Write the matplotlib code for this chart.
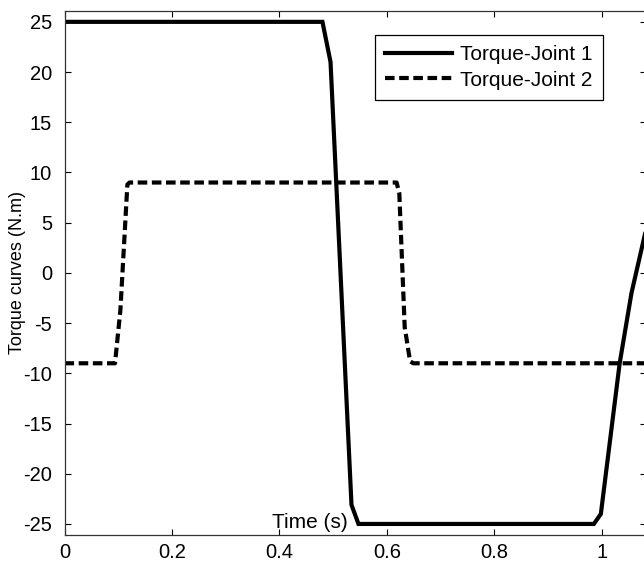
import matplotlib
matplotlib.use("Agg")
import matplotlib.pyplot as plt

# Data
t_joint1 = [0.0, 0.480, 0.495, 0.534, 0.547, 0.985, 0.998, 1.033, 1.055, 1.085]
tau_joint1 = [25.0, 25.0, 21.0, -23.1, -25.0, -25.0, -24.0, -9.0, -2.0, 5.0]

t_joint2 = [0.0, 0.094, 0.104, 0.117, 0.121, 0.618, 0.623, 0.633, 0.643, 0.649, 1.085]
tau_joint2 = [-9.0, -9.0, -3.7, 8.8, 9.0, 9.0, 7.9, -5.4, -8.8, -9.0, -9.0]

x_ticks = [0, 0.2, 0.4, 0.6, 0.8, 1.0]
x_tick_labels = ["0", "0.2", "0.4", "0.6", "0.8", "1"]
y_ticks = [-25, -20, -15, -10, -5, 0, 5, 10, 15, 20, 25]
series_labels = ["Torque-Joint 1", "Torque-Joint 2"]

plt.rcParams['font.family'] = ['Liberation Sans', 'DejaVu Sans']
plt.rcParams['axes.unicode_minus'] = False

W, H = 644, 564
fig = plt.figure(figsize=(W / 100, H / 100), dpi=100)
left_px, right_px, top_px, bottom_px = 64.5, 646.0, 10.8, 535.0
ax = fig.add_axes([left_px / W, (H - bottom_px) / H,
                   (right_px - left_px) / W, (bottom_px - top_px) / H])

ax.plot(t_joint1, tau_joint1, color='black', lw=3.0, solid_joinstyle='miter',
        label=series_labels[0])
ax.plot(t_joint2, tau_joint2, color='black', lw=3.0, dashes=(2.3, 1.1),
        label=series_labels[1])

ax.set_xlim(0, 1.082)
ax.set_ylim(-26.1, 26.1)
ax.set_xticks(x_ticks)
ax.set_xticklabels(x_tick_labels)
ax.set_yticks(y_ticks)

fs = 14.5
ax.tick_params(axis='both', which='both', direction='in', length=4, width=0.8,
               top=True, right=True, labelsize=fs, colors='black')
ax.tick_params(axis='x', pad=6)
ax.tick_params(axis='y', pad=9)
for sp in ax.spines.values():
    sp.set_linewidth(0.9)
    sp.set_color('#333333')

ax.set_xlabel("Time (s)", fontsize=15)
ax.xaxis.set_label_coords((310 - left_px) / (right_px - left_px),
                          (bottom_px - 522) / (bottom_px - top_px))
ax.xaxis.label.set_verticalalignment('center')
ax.set_ylabel("Torque curves (N.m)", fontsize=13)
ax.yaxis.set_label_coords((18 - left_px) / (right_px - left_px),
                          (bottom_px - 272) / (bottom_px - top_px))
ax.yaxis.label.set_verticalalignment('center')

leg = ax.legend(loc='upper right',
                bbox_to_anchor=((603 - left_px) / (right_px - left_px),
                                (bottom_px - 35) / (bottom_px - top_px)),
                fontsize=15, frameon=True, fancybox=False, shadow=False,
                framealpha=1, edgecolor='black', handlelength=3.2,
                handletextpad=0.4, borderpad=0.5, labelspacing=0.3,
                borderaxespad=0)
leg.get_frame().set_linewidth(0.9)

fig.savefig("out.png", dpi=100)
